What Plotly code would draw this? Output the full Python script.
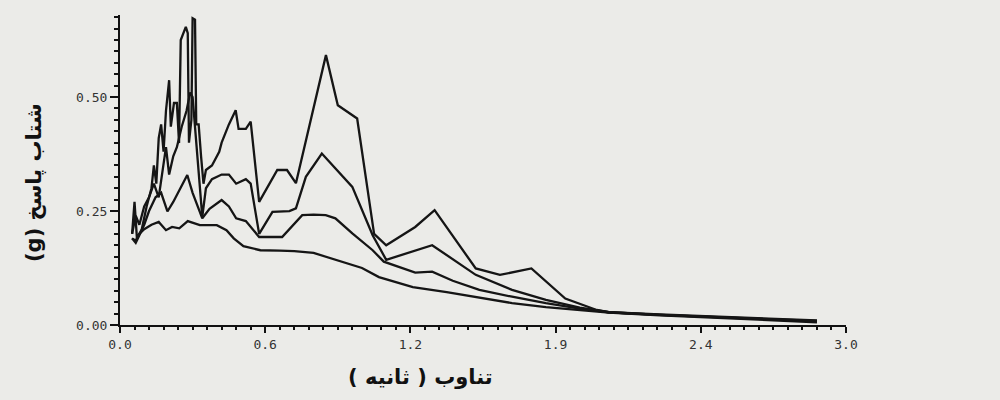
import plotly.graph_objects as go

# Period (s) and response acceleration (g) for four spectra
period_1 = [0.05, 0.065, 0.08, 0.10, 0.13, 0.16, 0.19, 0.215, 0.245, 0.28, 0.33, 0.40, 0.44, 0.47, 0.51,
            0.58, 0.66, 0.72, 0.80, 0.86, 0.94, 1.00, 1.07, 1.14, 1.21, 1.35, 1.49, 1.62, 1.76, 1.90,
            2.02, 2.23, 2.50, 2.88]
accel_1 = [0.19, 0.185, 0.20, 0.21, 0.22, 0.226, 0.208, 0.215, 0.212, 0.228, 0.219, 0.219, 0.208, 0.19, 0.173,
           0.164, 0.163, 0.162, 0.158, 0.148, 0.136, 0.125, 0.105, 0.094, 0.083, 0.072, 0.059, 0.048, 0.039, 0.033,
           0.027, 0.021, 0.015, 0.006]

period_2 = [0.05, 0.065, 0.08, 0.10, 0.12, 0.147, 0.17, 0.196, 0.22, 0.25, 0.278, 0.30, 0.34, 0.37, 0.42,
            0.45, 0.48, 0.52, 0.575, 0.67, 0.70, 0.753, 0.80, 0.85, 0.89, 0.96, 1.044, 1.09, 1.22, 1.29,
            1.375, 1.485, 1.62, 1.76, 1.90, 2.02, 2.23, 2.50, 2.88]
accel_2 = [0.19, 0.18, 0.197, 0.22, 0.25, 0.28, 0.29, 0.249, 0.27, 0.30, 0.329, 0.29, 0.234, 0.255, 0.274,
           0.26, 0.234, 0.228, 0.193, 0.193, 0.21, 0.241, 0.242, 0.241, 0.234, 0.201, 0.164, 0.139, 0.115, 0.117,
           0.097, 0.077, 0.062, 0.048, 0.036, 0.028, 0.022, 0.016, 0.008]

period_3 = [0.05, 0.065, 0.08, 0.10, 0.12, 0.14, 0.16, 0.175, 0.19, 0.203, 0.22, 0.235, 0.255, 0.275, 0.29,
            0.30, 0.315, 0.34, 0.355, 0.38, 0.42, 0.45, 0.48, 0.52, 0.54, 0.575, 0.63, 0.70, 0.727, 0.768,
            0.834, 0.96, 1.044, 1.10, 1.29, 1.47, 1.62, 1.76, 1.90, 2.02, 2.23, 2.50, 2.88]
accel_3 = [0.20, 0.24, 0.22, 0.26, 0.28, 0.31, 0.28, 0.34, 0.39, 0.33, 0.37, 0.39, 0.435, 0.47, 0.51,
           0.50, 0.40, 0.237, 0.30, 0.32, 0.33, 0.33, 0.31, 0.32, 0.31, 0.20, 0.248, 0.25, 0.256, 0.325,
           0.376, 0.303, 0.197, 0.143, 0.175, 0.11, 0.077, 0.055, 0.038, 0.028, 0.022, 0.016, 0.009]

period_4 = [0.05, 0.06, 0.07, 0.09, 0.11, 0.13, 0.14, 0.15, 0.16, 0.17, 0.18, 0.19, 0.203, 0.21, 0.223,
            0.235, 0.244, 0.251, 0.272, 0.28, 0.285, 0.295, 0.30, 0.31, 0.315, 0.325, 0.335, 0.345, 0.355, 0.38,
            0.41, 0.42, 0.45, 0.478, 0.49, 0.52, 0.54, 0.575, 0.65, 0.69, 0.727, 0.851, 0.90, 0.98, 1.05,
            1.10, 1.22, 1.30, 1.47, 1.57, 1.70, 1.84, 1.97, 2.02, 2.23, 2.50, 2.88]
accel_4 = [0.20, 0.27, 0.19, 0.21, 0.26, 0.30, 0.35, 0.31, 0.41, 0.44, 0.38, 0.47, 0.537, 0.435, 0.487,
           0.487, 0.399, 0.625, 0.654, 0.64, 0.40, 0.45, 0.673, 0.67, 0.44, 0.44, 0.37, 0.31, 0.34, 0.35,
           0.38, 0.40, 0.44, 0.471, 0.43, 0.43, 0.446, 0.27, 0.34, 0.34, 0.311, 0.592, 0.482, 0.453, 0.20,
           0.175, 0.215, 0.252, 0.124, 0.11, 0.124, 0.058, 0.033, 0.028, 0.023, 0.017, 0.010]

x_tickvals = [0.0, 0.6, 1.2, 1.8, 2.4, 3.0]
x_ticktext = ["0.0", "0.6", "1.2", "1.9", "2.4", "3.0"]
y_tickvals = [0.0, 0.25, 0.50]
y_ticktext = ["0.00", "0.25", "0.50"]

# Persian titles (LRM marks keep the right-to-left visual order inside an LTR SVG text)
x_title = "(\u200e ثانیه \u200e) \u200eتناوب"
y_title = "(g) شتاب پاسخ"

fig = go.Figure()
for px, py in [(period_1, accel_1), (period_2, accel_2), (period_3, accel_3), (period_4, accel_4)]:
    fig.add_trace(go.Scatter(x=px, y=py, mode="lines",
                             line=dict(color="#151515", width=2.3), showlegend=False))

bg = "#ebebe8"
fig.update_layout(
    width=1000, height=400,
    margin=dict(l=120, r=154, t=15, b=75),
    paper_bgcolor=bg, plot_bgcolor=bg,
    font=dict(family="DejaVu Sans Mono", color="#222"),
    showlegend=False,
)
fig.update_xaxes(
    range=[0, 3.0], showgrid=False, zeroline=False,
    showline=True, linecolor="#111", linewidth=2,
    tickmode="array", tickvals=x_tickvals, ticktext=x_ticktext,
    ticks="outside", ticklen=6, tickwidth=1.5, tickcolor="#111",
    tickfont=dict(family="DejaVu Sans Mono", size=13, color="#333"),
    minor=dict(dtick=0.06, tick0=0, ticks="outside", ticklen=3, tickcolor="#111", showgrid=False),
)
fig.update_yaxes(
    range=[0, 0.68], showgrid=False, zeroline=False,
    showline=True, linecolor="#111", linewidth=2,
    tickmode="array", tickvals=y_tickvals, ticktext=y_ticktext,
    ticks="outside", ticklen=8, tickwidth=1.5, tickcolor="#111",
    tickfont=dict(family="DejaVu Sans Mono", size=13, color="#333"),
    minor=dict(dtick=0.025, tick0=0, ticks="outside", ticklen=4, tickcolor="#111", showgrid=False),
)

fig.add_annotation(text=x_title, xref="paper", yref="paper", x=(420 - 120) / 726, y=-(377 - 325) / 310,
                   xanchor="center", yanchor="middle", showarrow=False,
                   font=dict(family="DejaVu Sans", size=21, color="#111", weight="bold"))
fig.add_annotation(text=y_title, xref="paper", yref="paper", x=(34 - 120) / 726, y=(325 - 183) / 310,
                   xanchor="center", yanchor="middle", textangle=-90, showarrow=False,
                   font=dict(family="DejaVu Sans", size=21, color="#111", weight="bold"))

fig.write_html("out.html", config={"displayModeBar": False},
               post_script="document.body.style.margin='0';")
